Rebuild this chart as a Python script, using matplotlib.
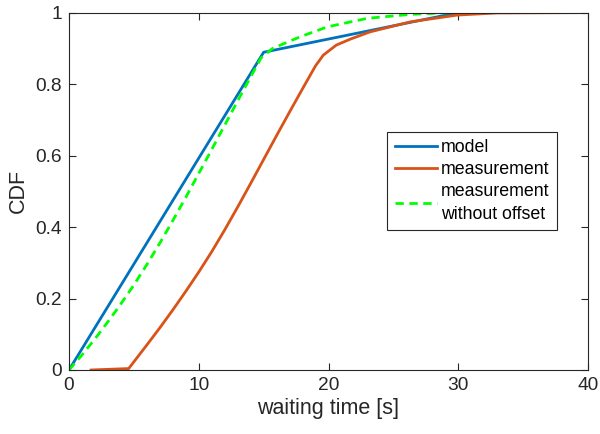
import matplotlib
matplotlib.use("Agg")
import matplotlib.pyplot as plt

plt.rcParams['font.family'] = ['Liberation Sans', 'DejaVu Sans']

# Data
model_x = [0, 15, 30, 40]
model_y = [0, 0.889, 1.0, 1.0]

meas_x = [1.7, 4.6, 6.0, 7.0, 8.0, 9.0, 10.0, 11.0, 12.0, 13.0, 14.0, 15.0, 16.0, 17.0,
          18.0, 19.0, 19.6, 20.6, 21.7, 23.2, 26.3, 29.9, 33.0, 40]
meas_y = [0, 0.004, 0.07, 0.118, 0.168, 0.22, 0.274, 0.331, 0.392, 0.456, 0.522, 0.589, 0.656,
          0.722, 0.787, 0.851, 0.881, 0.909, 0.926, 0.946, 0.974, 0.993, 0.999, 1.0]

nooff_x = [0, 1, 2, 3, 4, 5, 6, 7, 8, 9, 10, 11, 12, 13, 14, 14.8, 15.7, 17.8, 19.9,
           23.0, 26.3, 29.4, 40]
nooff_y = [0, 0.042, 0.087, 0.135, 0.185, 0.238, 0.295, 0.355, 0.418, 0.483, 0.55, 0.617,
           0.685, 0.753, 0.82, 0.873, 0.90, 0.932, 0.96, 0.984, 0.995, 1.0, 1.0]

x_ticks = [0, 10, 20, 30, 40]
y_ticks = [0, 0.2, 0.4, 0.6, 0.8, 1]
y_tick_labels = ["0", "0.2", "0.4", "0.6", "0.8", "1"]

labels = ["model", "measurement", "measurement\nwithout offset"]

dark = (0.15, 0.15, 0.15)

fig = plt.figure(figsize=(6.0, 4.34), dpi=100)
ax = fig.add_axes([0.115, 0.1475, 0.865, 0.8235])

ax.plot(model_x, model_y, color='#0072BD', lw=2.0, label=labels[0])
ax.plot(meas_x, meas_y, color='#D95319', lw=2.0, label=labels[1])
ax.plot(nooff_x, nooff_y, color=(0, 1, 0), lw=2.0, linestyle=(0, (3, 2)), label=labels[2])

ax.set_xlim(0, 40)
ax.set_ylim(0, 1)
ax.set_xticks(x_ticks)
ax.set_xticklabels([str(t) for t in x_ticks])
ax.set_yticks(y_ticks)
ax.set_yticklabels(y_tick_labels)

ax.tick_params(direction='in', length=5, width=0.8, colors=dark, labelsize=13.8,
               top=True, right=True)
ax.tick_params(axis='x', pad=5)
ax.tick_params(axis='y', pad=5)
for s in ax.spines.values():
    s.set_color(dark)
    s.set_linewidth(0.8)

ax.set_xlabel("waiting time [s]", fontsize=15.5, color=dark, labelpad=3)
ax.set_ylabel("CDF", fontsize=15.5, color=dark, labelpad=5)

leg = ax.legend(loc='upper left', bbox_to_anchor=(0.613, 0.666), fontsize=12.8,
                frameon=True, fancybox=False, framealpha=1, edgecolor=dark,
                handlelength=2.4, handletextpad=0.2, labelspacing=0.28,
                borderpad=0.42, borderaxespad=0)
leg.get_frame().set_linewidth(0.8)
for t in leg.get_texts():
    t.set_color('black')
    t.set_linespacing(1.4)

fig.savefig("out.png", dpi=100)
